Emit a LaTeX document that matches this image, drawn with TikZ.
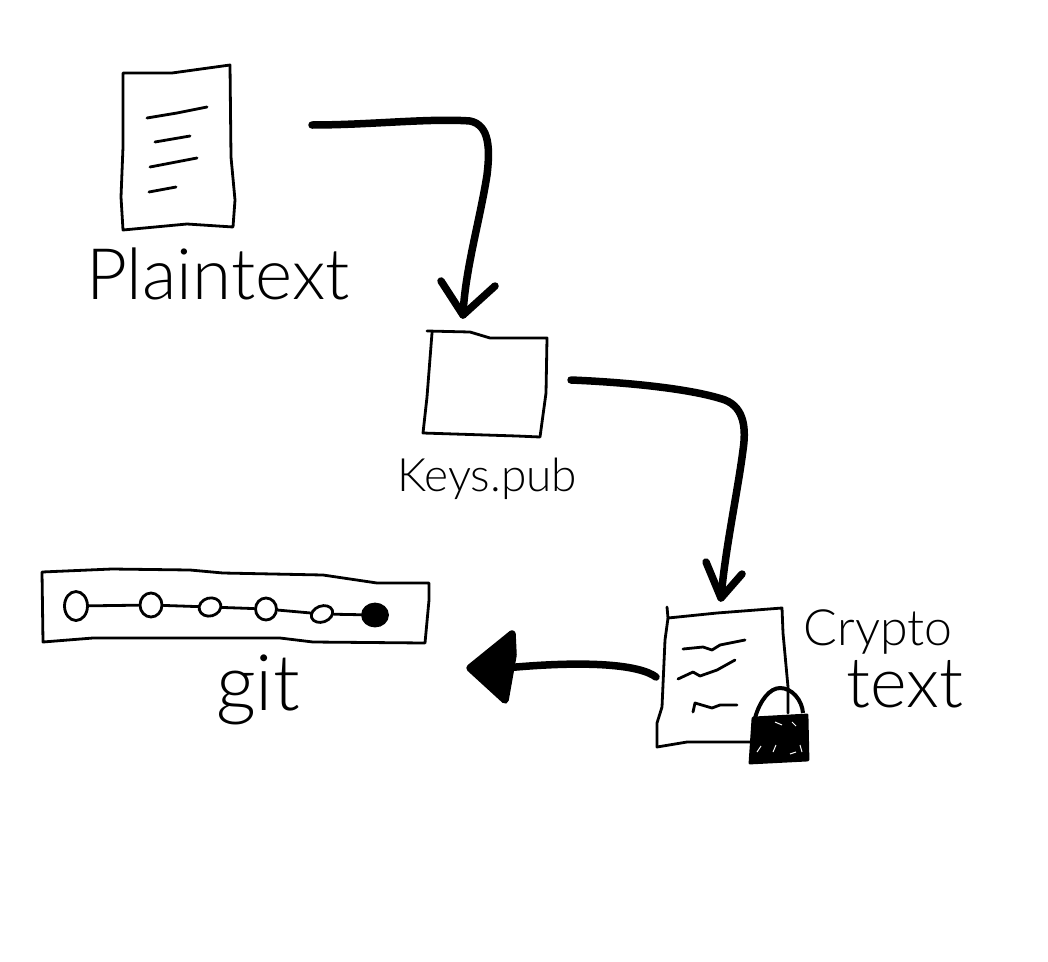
\documentclass[tikz,border=0pt]{standalone}
\usepackage{fontspec}
\setmainfont{Lato Light}
\usepackage{tikz}
\usetikzlibrary{shapes.geometric}

\tikzset{
    x=1pt, y=-1pt,
    hand/.style={line width=2.8pt, line join=round, line cap=round},
    pen/.style={line width=7.5pt, line join=round, line cap=round},
    commit/.style={ellipse, draw, line width=2.8pt, inner sep=0pt},
    label/.style={inner sep=0pt, text=black},
}

\begin{document}
\begin{tikzpicture}
    \useasboundingbox (0,0) rectangle (1048,961);

    % plaintext page
    \draw[hand] (123,73) -- (172,73) -- (230,65) -- (231,157) -- (235,200) -- (233,227)
        -- (187,224) -- (123,230) -- (121,197) -- (123,147) -- cycle;
    \draw[hand] (147,118) -- (177,113) -- (207,107);
    \draw[hand] (155,142) -- (190,136);
    \draw[hand] (150,167) -- (197,158);
    \draw[hand] (149,192) -- (176,187);
    \node[label, font=\fontsize{71}{71}\selectfont] (plainlabel) at (218,274) {Plaintext};

    % key file
    \draw[hand] (427,331) -- (470,332) -- (490,338) -- (547,338) -- (546,393) -- (540,437)
        -- (517,436) -- (423,433) -- (427,397) -- (432,333);
    \node[label, font=\fontsize{46}{46}\selectfont] (keylabel) at (487,479) {Keys.pub};

    % crypto page
    \draw[hand] (667,607) -- (668,618) -- (717,613) -- (782,608) -- (783,633) -- (788,687) -- (788,713);
    \draw[hand] (668,618) -- (665,640) -- (662,707) -- (657,723) -- (657,747) -- (687,742) -- (753,742);
    \draw[hand] (683,649) -- (703,647) -- (712,650) -- (720,645) -- (745,640);
    \draw[hand] (678,679) -- (693,672) -- (700,676) -- (717,670) -- (735,660);
    \draw[hand] (693,712) -- (695,703) -- (712,708) -- (720,705) -- (737,705);

    % lock
    \draw[line width=4pt] (755,718) .. controls (760,700) and (770,688) .. (780,688)
        .. controls (792,688) and (802,700) .. (803,713);
    \fill[draw, hand] (753,718) -- (807,715) -- (808,760) -- (750,763) -- cycle;
    \draw[white, line width=1pt] (775,722) -- (782,725) (792,722) -- (796,726)
        (757,752) -- (761,746) (776,745) -- (773,752) (790,754) -- (796,752) (800,745) -- (802,752);

    \node[label, font=\fontsize{50}{50}\selectfont] (cryptolabel) at (878,632) {Crypto};
    \node[label, font=\fontsize{70}{70}\selectfont] (textlabel) at (905,684) {text};

    % repository
    \draw[hand] (42,572) -- (112,569) -- (190,570) -- (223,573) -- (323,575) -- (377,583) -- (429,583)
        -- (429,600) -- (425,643) -- (313,642) -- (280,638) -- (93,638) -- (43,642) -- cycle;
    \node[commit, minimum width=23pt, minimum height=29pt] (c1) at (76,606) {};
    \node[commit, minimum width=22pt, minimum height=24pt] (c2) at (151,605) {};
    \node[commit, minimum width=22pt, minimum height=18pt, rotate=15] (c3) at (210,607) {};
    \node[commit, minimum width=21pt, minimum height=22pt] (c4) at (266,609) {};
    \node[commit, minimum width=22pt, minimum height=16pt, rotate=20] (c5) at (322,614) {};
    \node[commit, minimum width=25pt, minimum height=22pt, fill=black] (c6) at (375,615) {};
    \foreach \a/\b in {c1/c2, c2/c3, c3/c4, c4/c5, c5/c6}
        \draw[hand] (\a) -- (\b);
    \node[label, font=\fontsize{78}{78}\selectfont] (gitlabel) at (258,690) {git};

    % arrows
    \coordinate (plainout) at (312,125);
    \coordinate (keyin) at (463,315);
    \coordinate (keyout) at (571,380);
    \coordinate (cryptoin) at (721,598);
    \coordinate (cryptoout) at (656,677);
    \coordinate (gitin) at (470,668);

    \draw[pen] (plainout) .. controls (370,125) and (430,118) .. (470,121)
        .. controls (490,125) and (490,150) .. (487,175)
        .. controls (480,220) and (465,270) .. (keyin);
    \draw[pen] (441,281) -- (keyin) -- (495,286);

    \draw[pen] (keyout) .. controls (620,382) and (690,388) .. (725,400)
        .. controls (745,408) and (746,430) .. (743,450)
        .. controls (738,490) and (725,550) .. (cryptoin);
    \draw[pen] (706,562) -- (cryptoin) -- (742,574);

    \draw[pen] (cryptoout) .. controls (640,665) and (590,660) .. (505,668);
    \fill[draw, pen] (gitin) -- (512,634) -- (513,655) -- (505,700) -- cycle;
\end{tikzpicture}
\end{document}
